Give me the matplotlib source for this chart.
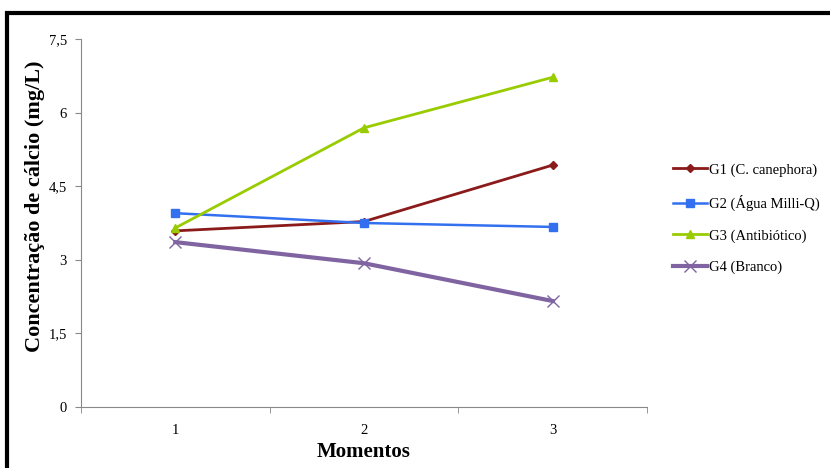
import matplotlib
matplotlib.use("Agg")
import matplotlib.pyplot as plt
from matplotlib.patches import Rectangle

momentos = [1, 2, 3]
g1 = [3.59, 3.78, 4.93]
g2 = [3.95, 3.75, 3.67]
g3 = [3.65, 5.69, 6.72]
g4 = [3.36, 2.93, 2.16]
labels = ['G1 (C. canephora)', 'G2 (Água Milli-Q)', 'G3 (Antibiótico)', 'G4 (Branco)']
yticks = [0, 1.5, 3, 4.5, 6, 7.5]
yticklabels = ['0', '1,5', '3', '4,5', '6', '7,5']

plt.rcParams['font.family'] = ['Liberation Serif', 'DejaVu Serif']

fig = plt.figure(figsize=(8.3, 4.68), dpi=100)
ax = fig.add_axes([81/830, 61/468, 566/830, 368/468])

ax.plot(momentos, g1, color='#8B1A1A', marker='D', markersize=4, lw=2, label=labels[0])
ax.plot(momentos, g2, color='#3370F0', marker='s', markersize=6, lw=1.8, label=labels[1])
ax.plot(momentos, g3, color='#99CC00', marker='^', markersize=6, lw=2, label=labels[2])
ax.plot(momentos, g4, color='#8064A2', marker='x', markersize=8, mew=1, lw=3, label=labels[3])

ax.set_xlim(0.5, 3.5)
ax.set_ylim(0, 7.5)
ax.set_yticks(yticks)
ax.set_yticklabels(yticklabels)
ax.set_xticks(momentos)
ax.set_xticks([0.5, 1.5, 2.5, 3.5], minor=True)
ax.tick_params(axis='x', which='major', length=0, pad=12, labelsize=10.5)
ax.tick_params(axis='x', which='minor', length=4, color='#888888')
ax.tick_params(axis='y', length=4, color='#888888', labelsize=10.5, pad=6)

for s in ['top', 'right']:
    ax.spines[s].set_visible(False)
for s in ['left', 'bottom']:
    ax.spines[s].set_color('#888888')

ax.set_xlabel('Momentos', fontsize=15, fontweight='bold', labelpad=4)
ax.set_ylabel('Concentração de cálcio (mg/L)', fontsize=16, fontweight='bold')
ax.yaxis.set_label_coords(-0.064, 0.546)

fig.legend(loc='upper left', bbox_to_anchor=(660/830, 1 - 150/468), frameon=False,
           fontsize=10.5, handlelength=2.3, labelspacing=1.25, handletextpad=0.15)

fig.patches.append(Rectangle((7/830, -0.05), 1.1, 1 - 13/468 + 0.05, transform=fig.transFigure,
                             fill=False, edgecolor='black', lw=3))

fig.savefig('out.png', dpi=100)
